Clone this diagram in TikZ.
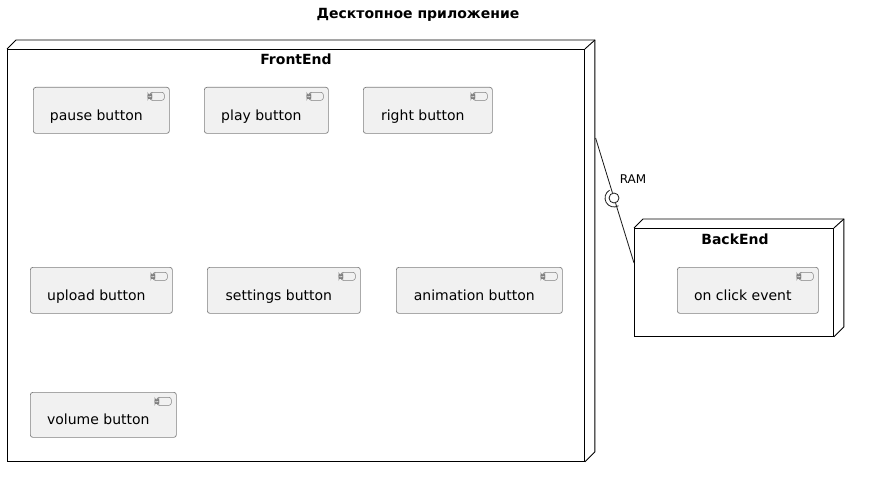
\documentclass[tikz,border=0pt]{standalone}
\usepackage{fontspec}
\setmainfont{DejaVu Sans}
\usepackage{tikz}
\usetikzlibrary{calc,positioning}
\definecolor{compfill}{HTML}{F1F1F1}
\definecolor{compline}{HTML}{808080}
\definecolor{edge}{HTML}{181818}
\tikzset{
  frameline/.style={draw=black, line width=0.9pt},
  nodeframe/.style={
    rectangle, frameline, fill=white,
    anchor=north west, inner sep=0pt
  },
  frametitle/.style={
    anchor=base, font=\bfseries\fontsize{14}{16}\selectfont
  },
  compbox/.style={
    rectangle, draw=compline, fill=compfill, line width=0.7pt,
    rounded corners=2.5pt, anchor=north west,
    minimum width=#1, minimum height=46,
    font=\fontsize{14}{16}\selectfont,
    text height=20pt, text depth=0pt,
    execute at end node={\hspace*{10pt}},
    path picture={
      \draw[compline, line width=0.5pt, fill=compfill]
        ([shift={(-19.5,5)}]path picture bounding box.north east) rectangle ++(14.5,8);
      \draw[compline, line width=0.5pt, fill=compfill]
        ([shift={(-21.5,6.7)}]path picture bounding box.north east) rectangle ++(4,1.6);
      \draw[compline, line width=0.5pt, fill=compfill]
        ([shift={(-21.5,9.7)}]path picture bounding box.north east) rectangle ++(4,1.6);
    }
  },
  compbox/.default=130,
  ball/.style={circle, draw=edge, line width=0.8pt, fill=white,
    minimum size=10, inner sep=0pt},
  wire/.style={draw=edge, line width=0.8pt},
  labelnode/.style={font=\fontsize{12}{14}\selectfont}
}
% back faces of a node frame
\newcommand{\nodedepth}[1]{%
  \draw[frameline] (#1.north west) -- ++(9,-9) -| ($(#1.south east)+(10,-10)$) -- (#1.south east);
  \draw[frameline] (#1.north east) -- ++(10,-9);
}

\begin{document}
\begin{tikzpicture}[x=1pt, y=-1pt]
  \useasboundingbox (0,0) rectangle (869,476);

  \node[frametitle] (title) at (418,19) {Десктопное приложение};

  % FrontEnd
  \node[nodeframe, minimum width=577, minimum height=412] (frontend) at (7,49) {};
  \nodedepth{frontend}
  \node[frametitle] (fetitle) at (296,65) {FrontEnd};

  \node[compbox=136] (pause) at (33,87) {pause button};
  \node[compbox=124] (play) at (204,87) {play button};
  \node[compbox=129] (right) at (363,87) {right button};
  \node[compbox=142] (upload) at (30,267) {upload button};
  \node[compbox=153] (settings) at (207,267) {settings button};
  \node[compbox=166] (animation) at (396,267) {animation button};
  \node[compbox=146, minimum height=45] (volume) at (30,392) {volume button};

  % BackEnd
  \node[nodeframe, minimum width=199, minimum height=108] (backend) at (634,228) {};
  \nodedepth{backend}
  \node[frametitle] (betitle) at (735,244) {BackEnd};
  \node[compbox=141] (onclick) at (677,267) {on click event};

  % RAM interface
  \node[ball] (ram) at (614,198) {};
  \coordinate (feport) at ($(frontend.north east)+(10.7,89)$);
  \coordinate (beport) at ($(backend.north west)+(0,35)$);
  \draw[wire] (feport) -- (ram);
  \draw[wire] (ram) -- (beport);
  \draw[wire] (ram.center) ++(-120:9) arc[start angle=-120, end angle=-300, radius=9];
  \node[labelnode] (ramlabel) at (633,179) {RAM};
\end{tikzpicture}
\end{document}
